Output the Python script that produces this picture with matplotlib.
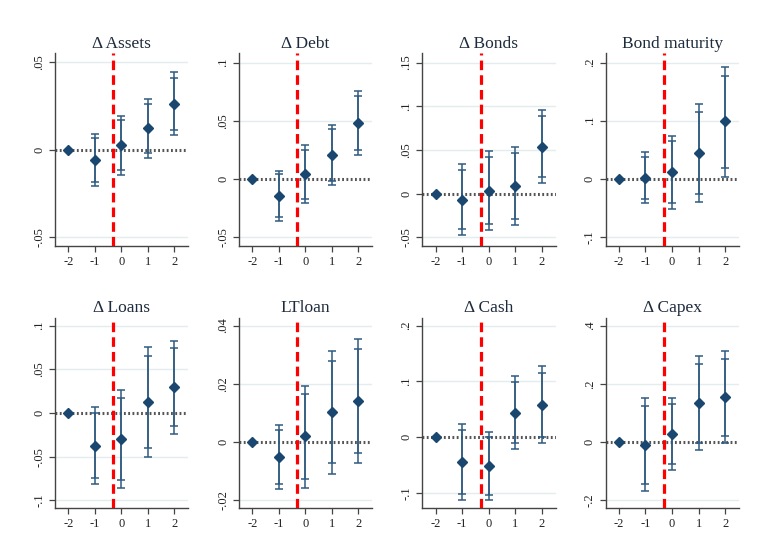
import numpy as np
import matplotlib
matplotlib.use("Agg")
import matplotlib.pyplot as plt

# temps relatif a l'evenement
event_time = [-2, -1, 0, 1, 2]

titles = ["\u0394 Assets", "\u0394 Debt", "\u0394 Bonds", "Bond maturity",
          "\u0394 Loans", "LTloan", "\u0394 Cash", "\u0394 Capex"]

# coefficients (periode -2 = reference)
coefs = [
    [0, -0.0059, 0.0027, 0.0126, 0.0261],
    [0, -0.0146, 0.0043, 0.0203, 0.0480],
    [0, -0.0069, 0.0034, 0.0088, 0.0538],
    [0, 0.0023, 0.0114, 0.0440, 0.0989],
    [0, -0.0374, -0.0298, 0.0126, 0.0294],
    [0, -0.0051, 0.0020, 0.0102, 0.0141],
    [0, -0.0449, -0.0521, 0.0437, 0.0575],
    [0, -0.0102, 0.0273, 0.1341, 0.1534],
]

# intervalles de confiance 90%
lo90 = [
    [np.nan, -0.0183, -0.0118, -0.0019, 0.0113],
    [np.nan, -0.0323, -0.0169, -0.0017, 0.0251],
    [np.nan, -0.0405, -0.0344, -0.0286, 0.0187],
    [np.nan, -0.0343, -0.0411, -0.0263, 0.0194],
    [np.nan, -0.0744, -0.0771, -0.0405, -0.0153],
    [np.nan, -0.0144, -0.0126, -0.0073, -0.0036],
    [np.nan, -0.1024, -0.1042, -0.0108, 0.0000],
    [np.nan, -0.1443, -0.0750, -0.0023, 0.0205],
]
hi90 = [
    [np.nan, 0.0069, 0.0170, 0.0265, 0.0412],
    [np.nan, 0.0043, 0.0249, 0.0426, 0.0709],
    [np.nan, 0.0271, 0.0416, 0.0466, 0.0893],
    [np.nan, 0.0383, 0.0646, 0.1143, 0.1771],
    [np.nan, 0.0000, 0.0176, 0.0653, 0.0740],
    [np.nan, 0.0041, 0.0166, 0.0278, 0.0318],
    [np.nan, 0.0126, 0.0000, 0.0982, 0.1156],
    [np.nan, 0.1239, 0.1295, 0.2693, 0.2852],
]

# intervalles de confiance 95%
lo95 = [
    [np.nan, -0.0206, -0.0143, -0.0044, 0.0084],
    [np.nan, -0.0357, -0.0209, -0.0054, 0.0209],
    [np.nan, -0.0469, -0.0420, -0.0363, 0.0118],
    [np.nan, -0.0411, -0.0520, -0.0400, 0.0040],
    [np.nan, -0.0817, -0.0863, -0.0504, -0.0240],
    [np.nan, -0.0161, -0.0156, -0.0108, -0.0070],
    [np.nan, -0.1132, -0.1138, -0.0216, -0.0114],
    [np.nan, -0.1693, -0.0966, -0.0273, -0.0045],
]
hi95 = [
    [np.nan, 0.0092, 0.0195, 0.0292, 0.0443],
    [np.nan, 0.0066, 0.0289, 0.0466, 0.0757],
    [np.nan, 0.0340, 0.0489, 0.0534, 0.0962],
    [np.nan, 0.0457, 0.0743, 0.1286, 0.1926],
    [np.nan, 0.0069, 0.0267, 0.0756, 0.0824],
    [np.nan, 0.0059, 0.0194, 0.0313, 0.0353],
    [np.nan, 0.0240, 0.0084, 0.1090, 0.1270],
    [np.nan, 0.1500, 0.1500, 0.2943, 0.3114],
]

ytick_values = [
    [-0.05, 0, 0.05],
    [-0.05, 0, 0.05, 0.1],
    [-0.05, 0, 0.05, 0.1, 0.15],
    [-0.1, 0, 0.1, 0.2],
    [-0.1, -0.05, 0, 0.05, 0.1],
    [-0.02, 0, 0.02, 0.04],
    [-0.1, 0, 0.1, 0.2],
    [-0.2, 0, 0.2, 0.4],
]
ytick_labels = [
    ["-.05", "0", ".05"],
    ["-.05", "0", ".05", ".1"],
    ["-.05", "0", ".05", ".1", ".15"],
    ["-.1", "0", ".1", ".2"],
    ["-.1", "-.05", "0", ".05", ".1"],
    ["-.02", "0", ".02", ".04"],
    ["-.1", "0", ".1", ".2"],
    ["-.2", "0", ".2", ".4"],
]
ylims = [
    (-0.055, 0.0553), (-0.0575, 0.108), (-0.06, 0.1607), (-0.115, 0.216),
    (-0.109, 0.109), (-0.0227, 0.0427), (-0.128, 0.214), (-0.227, 0.427),
]

treatment_line = -0.3

plt.rcParams['font.family'] = ['Liberation Serif', 'DejaVu Serif']

NAVY = '#1a476f'
CI_COLOR = '#2f5b80'
GRID = '#e3ecef'

fig = plt.figure(figsize=(7.59, 5.54), dpi=100)
fig.patch.set_facecolor('white')

lefts = [0.0725, 0.315, 0.5564, 0.798]
bottoms = [0.556, 0.0825]
heights = [0.348, 0.344]
width = 0.1755

for i in range(8):
    row, col = divmod(i, 4)
    ax = fig.add_axes([lefts[col], bottoms[row], width, heights[row]])

    c = np.array(coefs[i])
    x = np.array(event_time)

    # grille horizontale
    for yv in ytick_values[i]:
        if yv != 0:
            ax.axhline(yv, color=GRID, lw=1, zorder=0)

    # ligne zero en pointilles
    ax.axhline(0, color='#555555', lw=2.2, linestyle=(0, (0.6, 0.8)), zorder=1)

    # intervalles de confiance
    for lo, hi in ((lo95[i], hi95[i]), (lo90[i], hi90[i])):
        lo = np.array(lo)
        hi = np.array(hi)
        mask = ~np.isnan(lo)
        ax.errorbar(x[mask], c[mask], yerr=[c[mask] - lo[mask], hi[mask] - c[mask]],
                    fmt='none', ecolor=CI_COLOR, elinewidth=1.1, capsize=3,
                    capthick=1.1, zorder=2)

    ax.plot(x, c, linestyle='none', marker='D', markersize=5,
            color=NAVY, zorder=4)

    ax.axvline(treatment_line, color='#ff0000', lw=2.3, dashes=(3, 1.6), zorder=3)

    ax.set_xlim(-2.5, 2.52)
    ax.set_ylim(*ylims[i])
    ax.set_xticks(event_time)
    ax.set_xticklabels([str(t) for t in event_time])
    ax.set_yticks(ytick_values[i])
    ax.set_yticklabels(ytick_labels[i], rotation=90, va='center')

    for s in ('top', 'right'):
        ax.spines[s].set_visible(False)
    for s in ('left', 'bottom'):
        ax.spines[s].set_color('#444444')
        ax.spines[s].set_linewidth(1.0)
    ax.tick_params(axis='both', direction='out', length=4, width=0.9,
                   color='#444444', labelsize=9, labelcolor='#222222', pad=3)
    ax.set_title(titles[i], fontsize=12.5, color='#1e2b3c', pad=4)

fig.savefig('out.png', dpi=100, facecolor='white')
